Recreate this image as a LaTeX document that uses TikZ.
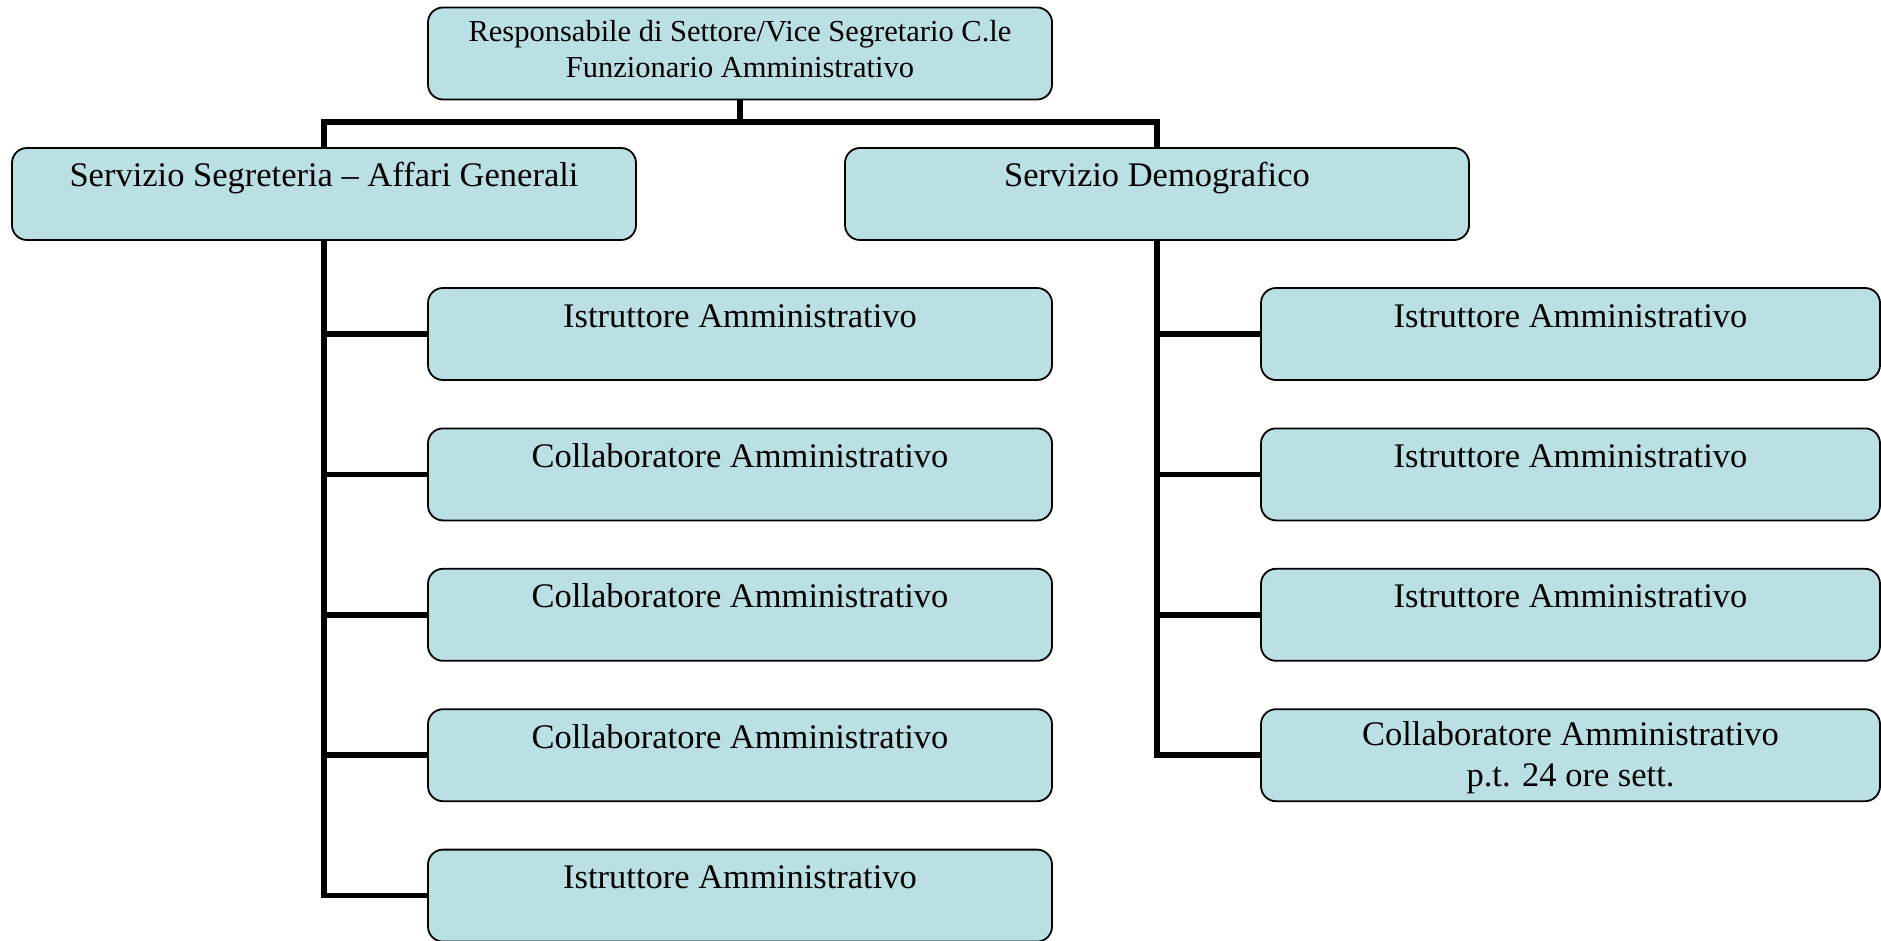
\documentclass[tikz,border=0pt]{standalone}
\usepackage{fontspec}
\setmainfont{Liberation Serif}
\usetikzlibrary{backgrounds}
\definecolor{boxfill}{RGB}{186,224,228}
\tikzset{
  orgbox/.style={draw=black, line width=1.8pt, fill=boxfill, rounded corners=15pt,
    rectangle, minimum width=624pt, minimum height=92pt, inner sep=0pt, outer sep=0pt},
  rbox/.style={orgbox, minimum width=619pt},
  lbl/.style={anchor=base, font=\fontsize{34.5}{41}\selectfont, align=center, inner sep=0pt},
  toplbl/.style={anchor=base, font=\fontsize{30.5}{36}\selectfont, align=center, inner sep=0pt},
  conn/.style={line width=5.5pt, draw=black}
}
\begin{document}
\begin{tikzpicture}[x=1pt,y=-1pt]
\useasboundingbox (0,0) rectangle (1881,941);
\coordinate (bar) at (740,122);
\node[orgbox] (top) at (740,53.5) {};
\node[toplbl] at ([yshift=-70pt]top.north) {Responsabile di Settore/Vice Segretario C.le\\Funzionario Amministrativo};
\node[orgbox] (seg) at (324,194) {};
\node[lbl] at ([yshift=-39pt]seg.north) {Servizio Segreteria -- Affari Generali};
\node[orgbox] (dem) at (1157,194) {};
\node[lbl] at ([yshift=-39pt]dem.north) {Servizio Demografico};
\foreach \i/\y/\t in {1/334/Istruttore Amministrativo,2/474.4/Collaboratore Amministrativo,3/614.8/Collaboratore Amministrativo,4/755.2/Collaboratore Amministrativo,5/895.6/Istruttore Amministrativo} {
  \node[orgbox] (a\i) at (740,\y) {};
  \node[lbl] at ([yshift=-39pt]a\i.north) {\t};
}
\foreach \i/\y in {1/334,2/474.4,3/614.8} {
  \node[rbox] (b\i) at (1570.5,\y) {};
  \node[lbl] at ([yshift=-39pt]b\i.north) {Istruttore Amministrativo};
}
\node[rbox] (b4) at (1570.5,755.2) {};
\node[lbl] at ([yshift=-77pt]b4.north) {Collaboratore Amministrativo\\p.t. 24 ore sett.};
\begin{scope}[on background layer]
\draw[conn] (top.south) -- (bar);
\draw[conn] ([xshift=-2.75pt]bar -| seg.north) -- ([xshift=2.75pt]bar -| dem.north);
\draw[conn] (bar -| seg.north) -- (seg.north);
\draw[conn] (bar -| dem.north) -- (dem.north);
\foreach \i in {1,...,5} { \draw[conn] (seg.south) |- (a\i.west); }
\foreach \i in {1,...,4} { \draw[conn] (dem.south) |- (b\i.west); }
\end{scope}
\end{tikzpicture}
\end{document}
